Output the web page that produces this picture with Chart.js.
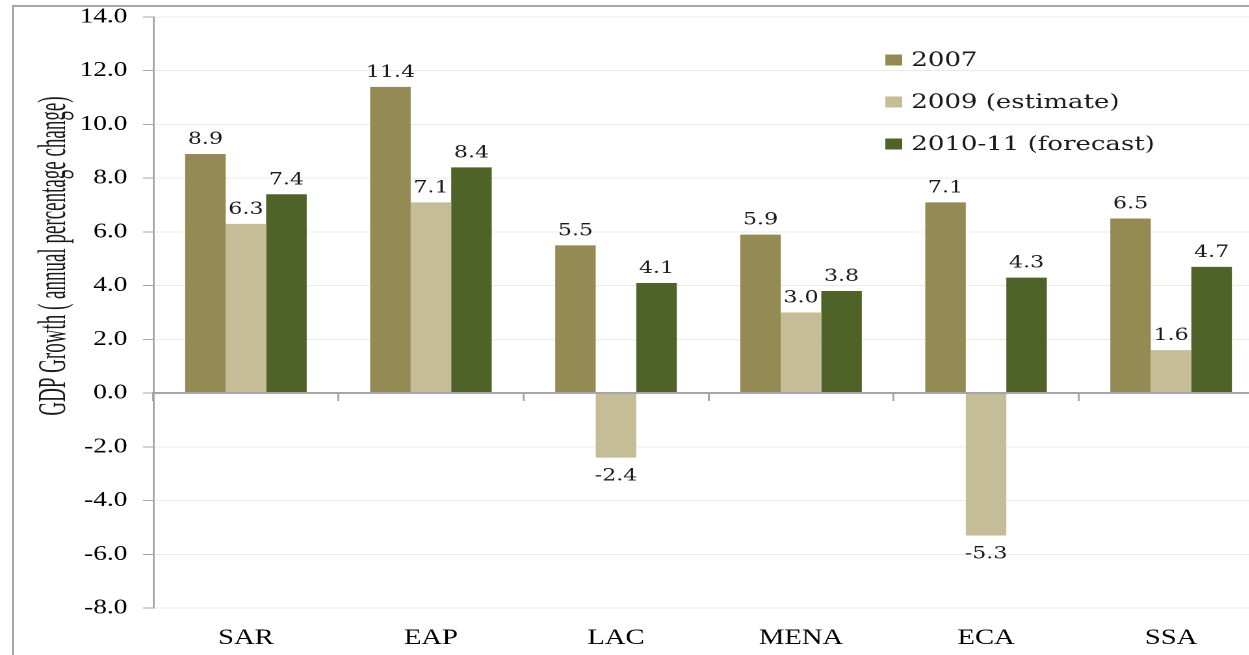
<!DOCTYPE html>
<html>
  <head>
    <title>GDP Growth</title>
    <script src="https://cdn.jsdelivr.net/npm/chart.js"></script>
    <style>
      html, body { margin: 0; padding: 0; overflow: hidden; background: #fff; }
      .frame { position: absolute; left: 12px; top: 5px; width: 1300px; height: 700px;
               border-left: 2px solid #a6a6a6; border-top: 2px solid #a6a6a6; }
      /* the source picture is stretched sideways, so the canvas is too */
      .chartframe { position: absolute; left: 0; top: 0; width: 972px; height: 655px;
                    transform: scaleX(1.3); transform-origin: 0 0; }
    </style>
  </head>
  <body>
    <div class="frame"></div>
    <div class="chartframe">
      <canvas id="myChart" width="972" height="655"></canvas>
    </div>
  </body>
</html>
<script>
//------------------------------------------------------------------------------
// data
//------------------------------------------------------------------------------
var regions = ['SAR', 'EAP', 'LAC', 'MENA', 'ECA', 'SSA'];
var seriesNames = ['2007', '2009 (estimate)', '2010-11 (forecast)'];
var gdp2007 = [8.9, 11.4, 5.5, 5.9, 7.1, 6.5];
var gdp2009 = [6.3, 7.1, -2.4, 3.0, -5.3, 1.6];
var gdp2010 = [7.4, 8.4, 4.1, 3.8, 4.3, 4.7];
var yTitle = 'GDP Growth ( annual percentage change)';

//------------------------------------------------------------------------------
// value labels over / under the bars
//------------------------------------------------------------------------------
var valueLabels = {
  id: 'valueLabels',
  afterDatasetsDraw: function(chart) {
    var ctx = chart.ctx;
    ctx.save();
    ctx.font = '17px "DejaVu Serif"';
    ctx.fillStyle = '#1a1a1a';
    ctx.textAlign = 'center';
    ctx.textBaseline = 'alphabetic';
    chart.data.datasets.forEach(function(ds, i) {
      chart.getDatasetMeta(i).data.forEach(function(bar, j) {
        var v = ds.data[j];
        var y = v >= 0 ? bar.y - 10 : bar.y + 23;
        ctx.fillText(v.toFixed(1), bar.x, y);
      });
    });
    ctx.restore();
  }
};

//------------------------------------------------------------------------------
// legend inside the plot + rotated axis title
//------------------------------------------------------------------------------
var extras = {
  id: 'extras',
  afterDraw: function(chart) {
    var ctx = chart.ctx;
    ctx.save();
    ctx.font = '20px "DejaVu Serif"';
    ctx.textBaseline = 'middle';
    chart.data.datasets.forEach(function(ds, i) {
      var y = 60 + i * 42;
      ctx.fillStyle = ds.backgroundColor;
      ctx.fillRect(681, y - 5.5, 13, 11);
      ctx.fillStyle = '#1a1a1a';
      ctx.fillText(ds.label, 701, y + 1);
    });
    ctx.restore();

    ctx.save();
    ctx.translate(42, 256);
    ctx.rotate(-Math.PI / 2);
    ctx.scale(1, 1.6);
    ctx.font = '19px "Liberation Serif"';
    ctx.fillStyle = '#1a1a1a';
    ctx.textAlign = 'center';
    ctx.textBaseline = 'middle';
    ctx.fillText(yTitle, 0, 0);
    ctx.restore();
  }
};

//------------------------------------------------------------------------------
// chart
//------------------------------------------------------------------------------
var ctx = document.getElementById('myChart').getContext('2d');
var chart = new Chart(ctx, {
  type: 'bar',
  data: {
    labels: regions,
    datasets: [{
      label: seriesNames[0],
      data: gdp2007,
      backgroundColor: '#948a54'
    }, {
      label: seriesNames[1],
      data: gdp2009,
      backgroundColor: '#c4bd97'
    }, {
      label: seriesNames[2],
      data: gdp2010,
      backgroundColor: '#4f6228'
    }]
  },
  options: {
    responsive: false,
    devicePixelRatio: 2,
    animation: false,
    layout: { padding: { top: 17, left: 0, right: 0, bottom: 0 } },
    datasets: {
      bar: { categoryPercentage: 0.657, barPercentage: 1 }
    },
    plugins: {
      legend: { display: false },
      tooltip: { enabled: false }
    },
    scales: {
      x: {
        position: 'bottom',
        grid: { display: false, drawTicks: false },
        border: { display: false },
        ticks: { color: '#000', font: { family: 'Liberation Serif', size: 22 }, padding: 17 },
        afterFit: function(scale) { scale.height = 47; }
      },
      x0: {
        type: 'category',
        position: { y: 0 },
        grid: { drawOnChartArea: false, offset: true, tickLength: 7, color: '#a6a6a6', lineWidth: 1.5, z: 1 },
        border: { color: '#a6a6a6', width: 2, z: 1 },
        ticks: { display: false }
      },
      y: {
        min: -8,
        max: 14,
        ticks: {
          stepSize: 2,
          padding: 12,
          color: '#000',
          font: { family: 'Liberation Serif', size: 21 },
          callback: function(v) { return v.toFixed(1); }
        },
        grid: { color: '#ecebe3', tickColor: '#a6a6a6', tickLength: 8, lineWidth: 1 },
        border: { color: '#a6a6a6', width: 1.5 },
        afterFit: function(scale) {
          scale.width = 118;
          scale.paddingTop = 0;
          scale.paddingBottom = 0;
        }
      }
    }
  },
  plugins: [valueLabels, extras]
});
</script>
